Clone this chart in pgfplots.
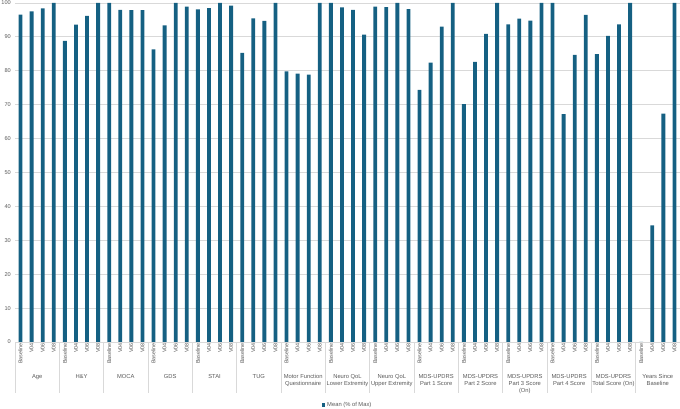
\documentclass[border=0pt]{standalone}
\usepackage{pgfplots}
\pgfplotsset{compat=1.18}
\usepackage{fontspec}
\setmainfont{Liberation Sans}
\definecolor{barc}{HTML}{156082}
\definecolor{txt}{HTML}{595959}
\definecolor{gridc}{HTML}{D9D9D9}
\pgfplotstableread{
x y
0 96.6
1 97.5
2 98.4
3 100
4 88.8
5 93.6
6 96.2
7 100
8 100
9 98.0
10 97.9
11 97.9
12 86.3
13 93.4
14 100
15 98.9
16 98.1
17 98.5
18 100
19 99.2
20 85.3
21 95.5
22 94.7
23 100
24 79.8
25 79.2
26 78.9
27 100
28 100
29 98.7
30 98.0
31 90.7
32 98.9
33 98.8
34 100
35 98.2
36 74.4
37 82.4
38 93.0
39 100
40 70.2
41 82.6
42 90.9
43 100
44 93.7
45 95.4
46 94.8
47 100
48 100
49 67.2
50 84.7
51 96.5
52 84.9
53 90.3
54 93.7
55 100
56 0
57 34.4
58 67.4
59 100
}\datatable
\begin{document}
\begin{tikzpicture}
\begin{axis}[
  at={(0,0)}, anchor=south west,
  scale only axis, width=665pt, height=339pt,
  xmin=-0.5, xmax=59.5, ymin=0, ymax=100,
  ybar, bar width=0.34,
  ytick={0,10,...,100},
  ymajorgrids, grid style={gridc, line width=0.8pt},
  axis line style={draw=none},
  major tick length=0pt,
  xtick={0,...,59},
  xticklabels={Baseline,V04,V06,V08,Baseline,V04,V06,V08,Baseline,V04,V06,V08,Baseline,V04,V06,V08,Baseline,V04,V06,V08,Baseline,V04,V06,V08,Baseline,V04,V06,V08,Baseline,V04,V06,V08,Baseline,V04,V06,V08,Baseline,V04,V06,V08,Baseline,V04,V06,V08,Baseline,V04,V06,V08,Baseline,V04,V06,V08,Baseline,V04,V06,V08,Baseline,V04,V06,V08},
  xticklabel style={rotate=90, anchor=east, font=\fontsize{5.4}{6}\selectfont, text=txt, inner sep=1pt},
  yticklabel style={font=\fontsize{5.6}{6}\selectfont, text=txt, inner sep=1pt, xshift=-3pt},
  /pgf/number format/assume math mode=true,
  clip=false,
  legend style={at={(0.5,-0.186)}, anchor=center, draw=none, fill=none, font=\fontsize{5.8}{7}\selectfont, text=txt},
  legend image code/.code={\fill[barc] (0pt,-1.8pt) rectangle (3.6pt,1.8pt);},
]
\addplot[fill=barc, draw=none] table[x=x, y=y] {\datatable};
\addlegendentry{Mean (\% of Max)}
\tikzset{grp/.style={anchor=north, align=center, font=\fontsize{5.8}{7}\selectfont, text=txt, inner sep=0pt, yshift=-32pt}}
\node[grp] at (axis cs:1.5,0) {Age};
\node[grp] at (axis cs:5.5,0) {H\&Y};
\node[grp] at (axis cs:9.5,0) {MOCA};
\node[grp] at (axis cs:13.5,0) {GDS};
\node[grp] at (axis cs:17.5,0) {STAI};
\node[grp] at (axis cs:21.5,0) {TUG};
\node[grp] at (axis cs:25.5,0) {Motor Function\\Questionnaire};
\node[grp] at (axis cs:29.5,0) {Neuro QoL\\Lower Extremity};
\node[grp] at (axis cs:33.5,0) {Neuro QoL\\Upper Extremity};
\node[grp] at (axis cs:37.5,0) {MDS-UPDRS\\Part 1 Score};
\node[grp] at (axis cs:41.5,0) {MDS-UPDRS\\Part 2 Score};
\node[grp] at (axis cs:45.5,0) {MDS-UPDRS\\Part 3 Score\\(On)};
\node[grp] at (axis cs:49.5,0) {MDS-UPDRS\\Part 4 Score};
\node[grp] at (axis cs:53.5,0) {MDS-UPDRS\\Total Score (On)};
\node[grp] at (axis cs:57.5,0) {Years Since\\Baseline};
\end{axis}
\foreach \i in {0,...,15} \draw[gridc, line width=0.8pt] (\i*44.3333pt,0) -- ++(0,-51pt);
\pgfresetboundingbox
\path[use as bounding box] (-15pt,-67pt) rectangle (665pt,342pt);
\end{tikzpicture}
\end{document}
